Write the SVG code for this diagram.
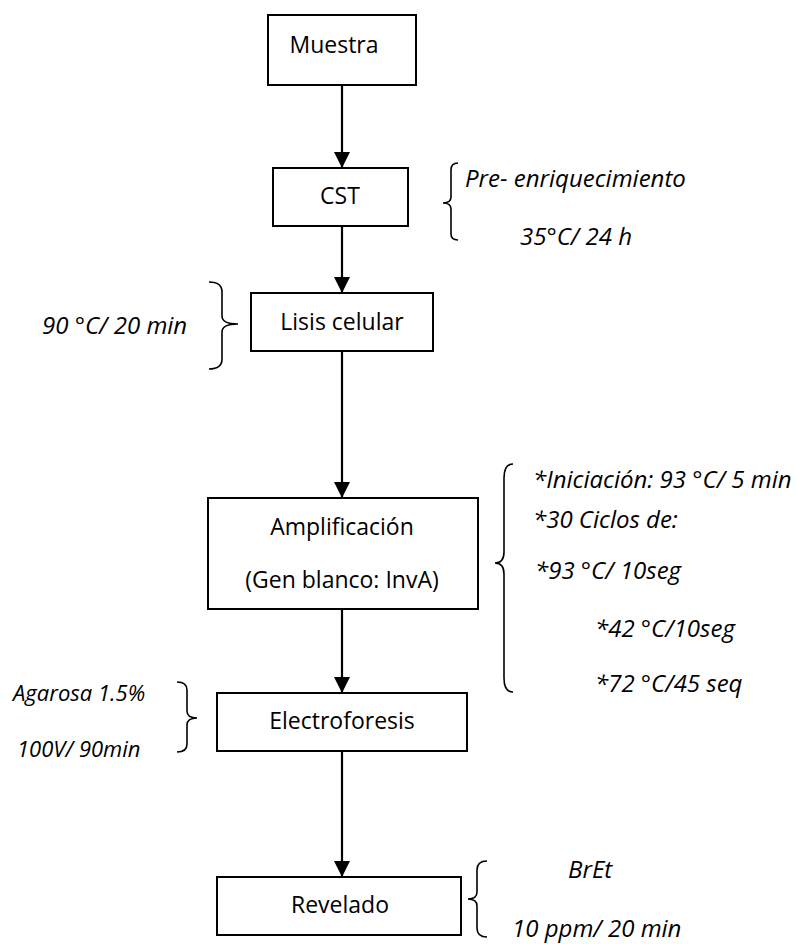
<svg xmlns="http://www.w3.org/2000/svg" width="797" height="944" viewBox="0 0 797 944">
  <style>
    .box { fill: #ffffff; stroke: #000000; stroke-width: 2; }
    .lbl { font-family: "Open Sans", "Liberation Sans", sans-serif; font-size: 23px; fill: #000000; text-anchor: middle; }
    .note { font-family: "Open Sans", "Liberation Sans", sans-serif; font-size: 24px; font-style: italic; fill: #000000; }
    .note.small { font-size: 22px; }
    .brace { fill: none; stroke: #000000; stroke-width: 1.6; }
    .link { fill: none; stroke: #000000; stroke-width: 2.2; marker-end: url(#arrow); }
  </style>
  <defs>
    <marker id="arrow" markerUnits="userSpaceOnUse" markerWidth="16" markerHeight="16" viewBox="0 0 16 16" refX="16" refY="8" orient="auto">
      <path d="M0,0 L16,8 L0,16 Z" fill="#000000"/>
    </marker>
  </defs>
  <rect width="797" height="944" fill="#ffffff"/>

  <!-- flow connectors -->
  <g id="connectors">
    <line class="link" x1="342" y1="85" x2="342" y2="168"/>
    <line class="link" x1="342" y1="226" x2="342" y2="293"/>
    <line class="link" x1="342" y1="351" x2="342" y2="498"/>
    <line class="link" x1="342" y1="609" x2="342" y2="693"/>
    <line class="link" x1="342" y1="751" x2="342" y2="877"/>
  </g>

  <g id="muestra">
    <rect class="box" x="268" y="15" width="148" height="70"/>
    <text class="lbl" x="334" y="53">Muestra</text>
  </g>

  <g id="cst">
    <rect class="box" x="273" y="168" width="135" height="58"/>
    <text class="lbl" x="340" y="204">CST</text>
  </g>

  <g id="lisis">
    <rect class="box" x="251" y="293" width="182" height="58"/>
    <text class="lbl" x="342" y="330">Lisis celular</text>
  </g>

  <g id="amplificacion">
    <rect class="box" x="208" y="498" width="270" height="111"/>
    <text class="lbl" x="342" y="535">Amplificación</text>
    <text class="lbl" x="342" y="588">(Gen blanco: InvA)</text>
  </g>

  <g id="electroforesis">
    <rect class="box" x="217" y="693" width="250" height="58"/>
    <text class="lbl" x="342" y="729">Electroforesis</text>
  </g>

  <g id="revelado">
    <rect class="box" x="217" y="877" width="244" height="58"/>
    <text class="lbl" x="340" y="913">Revelado</text>
  </g>

  <!-- side notes with braces -->
  <g id="nota-cst">
    <path class="brace" d="M458,163 Q451,163 451,170 L451,197 Q451,203 443,203 Q451,203 451,209 L451,234 Q451,240 458,240"/>
    <text class="note" x="465" y="187">Pre- enriquecimiento</text>
    <text class="note" x="520" y="245">35°C/ 24 h</text>
  </g>

  <g id="nota-lisis">
    <path class="brace" d="M209,282 Q222,282 222,292 L222,316 Q222,324 238,324 Q222,324 222,332 L222,359 Q222,369 209,369"/>
    <text class="note" x="42" y="334">90 °C/ 20 min</text>
  </g>

  <g id="nota-amplificacion">
    <path class="brace" d="M513,464 Q504,464 504,478 L504,552 Q504,563 495,563 Q504,563 504,574 L504,678 Q504,692 513,692"/>
    <text class="note" x="533" y="488">*Iniciación: 93 °C/ 5 min</text>
    <text class="note" x="533" y="528">*30 Ciclos de:</text>
    <text class="note" x="535" y="579">*93 °C/ 10seg</text>
    <text class="note" x="595" y="637">*42 °C/10seg</text>
    <text class="note" x="595" y="692">*72 °C/45 seq</text>
  </g>

  <g id="nota-electroforesis">
    <path class="brace" d="M177,682 Q187,682 187,690 L187,711 Q187,718 197,718 Q187,718 187,725 L187,744 Q187,752 177,752"/>
    <text class="note small" x="13" y="701">Agarosa 1.5%</text>
    <text class="note small" x="17" y="757">100V/ 90min</text>
  </g>

  <g id="nota-revelado">
    <path class="brace" d="M487,861 Q477,861 477,870 L477,892 Q477,899 468,899 Q477,899 477,906 L477,928 Q477,937 487,937"/>
    <text class="note" x="568" y="878">BrEt</text>
    <text class="note" x="512" y="937">10 ppm/ 20 min</text>
  </g>
</svg>
